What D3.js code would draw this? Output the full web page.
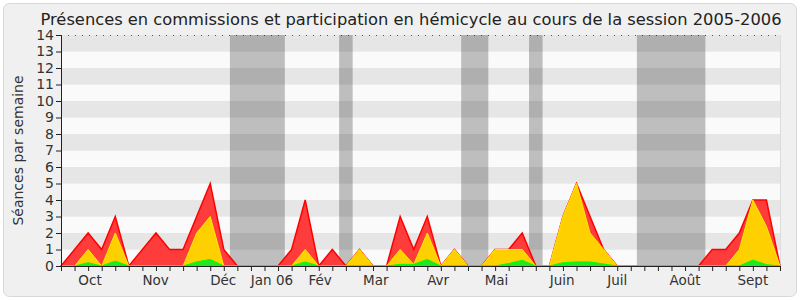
<!DOCTYPE html>
<html>
<head>
<meta charset="utf-8">
<script src="https://cdn.jsdelivr.net/npm/d3@7"></script>
<style>
  body { margin: 0; background: #fff; }
  text { font-family: "DejaVu Sans", sans-serif; }
</style>
</head>
<body>
<div id="container"></div>
<script>
/* DATA : one value per week, 54 weeks from Sept 2005 to Sept 2006 */
const presenceTotal = [0, 1, 2, 1, 3, 0, 1, 2, 1, 1, 3, 5, 1, 0, 0, 0, 0, 1, 4, 0,
  1, 0, 1, 0, 0, 3, 1, 3, 0, 1, 0, 0, 1, 1, 2, 0, 0, 3, 5, 3,
  1, 0, 0, 0, 0, 0, 0, 0, 1, 1, 2, 4, 4, 0];
const presenceHemicycle = [0, 0, 1, 0, 2, 0, 0, 0, 0, 0, 2, 3, 0, 0, 0, 0, 0, 0, 1, 0,
  0, 0, 1, 0, 0, 1, 0.1, 2, 0, 1, 0, 0, 1, 1, 1, 0, 0, 3, 5, 2,
  1, 0, 0, 0, 0, 0, 0, 0, 0, 0, 1, 4, 2.4, 0];
const interventions = [0, 0, 0.2, 0, 0.3, 0, 0, 0, 0, 0, 0.25, 0.4, 0, 0, 0, 0, 0, 0, 0.25, 0,
  0, 0, 0, 0, 0, 0.1, 0.1, 0.4, 0, 0, 0, 0, 0, 0.15, 0.35, 0, 0, 0.2, 0.25, 0.25,
  0.12, 0, 0, 0, 0, 0, 0, 0, 0, 0, 0, 0.36, 0.08, 0];

// holidays (in week index units)
const vacances = [[12.45, 16.5], [20.5, 21.5], [29.5, 31.5], [34.5, 35.5], [42.45, 47.5]];

const monthLabels = ["Oct", "Nov", "Déc", "Jan 06", "Fév", "Mar", "Avr", "Mai", "Juin", "Juil", "Août", "Sept"];
const monthPos = [2.14, 6.98, 11.96, 15.55, 19.1, 23.2, 27.8, 32.1, 36.95, 41.0, 46.0, 51.0];

/* CONSTANTS */
const width = 800,
  height = 300,
  margin = { top: 35, bottom: 34, left: 61, right: 20 };

const svg = d3.select("#container")
  .append("svg")
  .attr("width", width)
  .attr("height", height);

// frame
svg.append("rect")
  .attr("x", 3.5).attr("y", 3.5)
  .attr("width", width - 7).attr("height", height - 7)
  .attr("rx", 6)
  .attr("fill", "#f0f0f0")
  .attr("stroke", "#d8d8d8");

/* SCALES */
const xScale = d3.scaleLinear()
  .domain([0, presenceTotal.length - 1])
  .range([margin.left, width - margin.right]);

const yScale = d3.scaleLinear()
  .domain([0, 14])
  .range([height - margin.bottom, margin.top]);

// stripes
svg.append("g")
  .selectAll("rect")
  .data(d3.range(14))
  .join("rect")
  .attr("x", xScale(0))
  .attr("y", d => yScale(d + 1))
  .attr("width", xScale.range()[1] - xScale.range()[0])
  .attr("height", d => yScale(d) - yScale(d + 1))
  .attr("fill", d => d % 2 === 1 ? "#e6e6e6" : "#fafafa");

// top dotted line
svg.append("line")
  .attr("x1", xScale(0)).attr("x2", xScale.range()[1])
  .attr("y1", yScale(14) + 0.5).attr("y2", yScale(14) + 0.5)
  .attr("stroke", "#555")
  .attr("stroke-dasharray", "1,6");

// right border
svg.append("line")
  .attr("x1", xScale.range()[1] + 0.5).attr("x2", xScale.range()[1] + 0.5)
  .attr("y1", yScale(14)).attr("y2", yScale(0))
  .attr("stroke", "#dcdcdc");

// holidays
svg.append("g")
  .selectAll("rect")
  .data(vacances)
  .join("rect")
  .attr("x", d => xScale(d[0]))
  .attr("y", yScale(14))
  .attr("width", d => xScale(d[1]) - xScale(d[0]))
  .attr("height", yScale(0) - yScale(14))
  .attr("fill", "rgba(0,0,0,0.24)");

/* AREAS */
const area = d3.area()
  .x((d, i) => xScale(i))
  .y0(yScale(0))
  .y1(d => yScale(d));

svg.append("path")
  .datum(presenceTotal)
  .attr("d", area)
  .attr("fill", "#ff3c3c")
  .attr("stroke", "#ff0000")
  .attr("stroke-width", 1.5);

svg.append("path")
  .datum(presenceHemicycle)
  .attr("d", area)
  .attr("fill", "#ffd000")
  .attr("stroke", "#ffea00")
  .attr("stroke-width", 1);

svg.append("path")
  .datum(interventions)
  .attr("d", area)
  .attr("fill", "#22e622")
  .attr("stroke", "#00ff00")
  .attr("stroke-width", 1);

/* AXES */
const yAxis = d3.axisLeft(yScale)
  .tickValues(d3.range(15))
  .tickSize(5)
  .tickPadding(2);

const yG = svg.append("g")
  .attr("transform", `translate(${margin.left},0)`)
  .call(yAxis);
yG.selectAll("text").attr("font-size", 14).attr("fill", "#333");
yG.selectAll("line, path").attr("stroke", "#222");

const xAxis = d3.axisBottom(xScale)
  .tickValues(d3.range(presenceTotal.length))
  .tickFormat("")
  .tickSize(5)
  .tickSizeOuter(0);

const xG = svg.append("g")
  .attr("transform", `translate(0,${yScale(0)})`)
  .call(xAxis);
xG.selectAll("line, path").attr("stroke", "#222");

svg.append("g")
  .selectAll("text")
  .data(monthLabels)
  .join("text")
  .attr("x", (d, i) => xScale(monthPos[i]))
  .attr("y", yScale(0) + 19)
  .attr("text-anchor", "middle")
  .attr("font-size", 13.5)
  .attr("fill", "#333")
  .text(d => d);

// y title
svg.append("text")
  .attr("transform", `translate(23,${(yScale(0) + yScale(14)) / 2}) rotate(-90)`)
  .attr("text-anchor", "middle")
  .attr("font-size", 14)
  .attr("fill", "#333")
  .text("Séances par semaine");

// title
svg.append("text")
  .attr("x", 411)
  .attr("y", 25)
  .attr("text-anchor", "middle")
  .attr("font-size", 16.3)
  .attr("fill", "#222")
  .text("Présences en commissions et participation en hémicycle au cours de la session 2005-2006");
</script>
</body>
</html>
